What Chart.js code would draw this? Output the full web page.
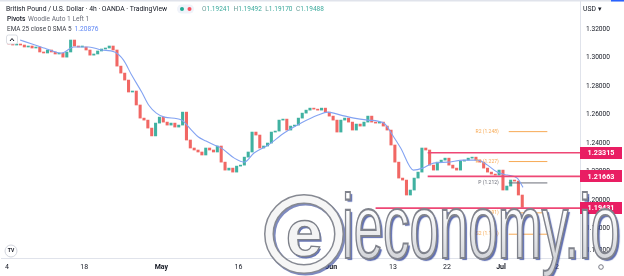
<!DOCTYPE html>
<html><head><meta charset="utf-8">
<script src="https://cdn.jsdelivr.net/npm/chart.js@4.4.1/dist/chart.umd.min.js"></script>
<style>html,body{margin:0;padding:0;background:#fff;overflow:hidden}canvas{display:block}</style>
</head><body>
<canvas id="c" width="624" height="276" style="width:624px;height:276px"></canvas>
<script>
// ---- data (12h candles, index 0 = 4 Apr first half) ----
const firstOpen = 1.3100;
const closes = [
 1.3095,1.3088,1.3095,1.3088,1.3074,1.3081,1.3067,1.3074,1.3039,1.3032,
 1.3053,1.3039,1.3025,1.3032,1.3003,1.3039,1.3123,1.3081,1.3074,1.3074,
 1.3053,1.3017,1.3025,1.3046,1.3060,1.3067,1.3081,1.3053,1.2940,1.2891,
 1.2842,1.2758,1.2765,1.2667,1.2575,1.2561,1.2505,1.2450,1.2540,1.2582,
 1.2547,1.2526,1.2540,1.2512,1.2526,1.2617,1.2421,1.2365,1.2351,1.2337,
 1.2316,1.2365,1.2351,1.2337,1.2379,1.2266,1.2210,1.2224,1.2196,1.2238,
 1.2245,1.2301,1.2337,1.2477,1.2456,1.2365,1.2379,1.2400,1.2477,1.2484,
 1.2561,1.2568,1.2491,1.2519,1.2526,1.2575,1.2610,1.2631,1.2645,1.2638,
 1.2631,1.2645,1.2617,1.2589,1.2561,1.2477,1.2561,1.2575,1.2547,1.2491,
 1.2533,1.2519,1.2547,1.2589,1.2547,1.2540,1.2547,1.2519,1.2491,1.2386,
 1.2266,1.2154,1.2140,1.2035,1.2070,1.2154,1.2196,1.2365,1.2351,1.2245,
 1.2210,1.2266,1.2280,1.2294,1.2245,1.2224,1.2210,1.2273,1.2280,1.2294,
 1.2301,1.2280,1.2266,1.2224,1.2196,1.2182,1.2175,1.2210,1.2070,1.2098,
 1.2140,1.2133,1.2035,1.1949
];
const emaIndex = [2.9,6.0,9.8,13.7,16.8,20.7,24.0,27.4,29.7,31.8,34.4,36.2,38.2,40.3,44.7,47.3,49.1,51.1,53.2,55.0,58.4,61.0,63.5,67.2,71.3,75.7,80.1,82.6,86.0,89.4,93.0,97.1,99.7,101.5,104.8,107.2,110.0,113.6,117.8,121.4,124.0,126.5,129.1,131.7,133.2];
const emaValues = [1.3123,1.3095,1.3060,1.3032,1.3074,1.3074,1.3053,1.3039,1.2982,1.2877,1.2758,1.2667,1.2610,1.2582,1.2561,1.2491,1.2442,1.2414,1.2386,1.2365,1.2294,1.2266,1.2330,1.2386,1.2470,1.2540,1.2596,1.2617,1.2596,1.2575,1.2561,1.2540,1.2442,1.2365,1.2210,1.2224,1.2259,1.2266,1.2280,1.2280,1.2245,1.2196,1.2175,1.2154,1.2089];
const xTickIndex = [-0.5,19.5,39.5,59.5,83.5,99.5,113.5,127.5,141.5];
const xTickLabels = ['4','18','May','16','Jun','13','22','Jul','12'];
const xTickBold = [false,false,true,false,true,false,false,true,false];
const yTickValues = [1.16,1.18,1.20,1.22,1.24,1.26,1.28,1.30,1.32];
const pivotNames = ['R2','R1','P','S1','S2'];
const pivotValues = [1.248,1.227,1.212,1.191,1.176];
const pivotSpan = [129.5,139.5];
const levelValues = [1.23315,1.21663,1.19431];
const levelStart = [108.5,108.5,95];
const lastOHLC = [1.19241,1.19492,1.19170,1.19488];
const emaLast = 1.20876;

// ---- layout constants ----
const X_MIN = -1.792, X_MAX = 147.96, Y_MIN = 1.1593, Y_MAX = 1.3404;
const GREEN = '#40b1a1', RED = '#f16764', EMA_C = '#83a3f2', ORANGE = '#f7aa55', PINK = '#ee4775', BOX = '#e91e63';
const FONT = 'Roboto';

const opens = closes.map((c,i)=> i===0 ? firstOpen : closes[i-1]);
const candleData = closes.map((c,i)=>({x:i, y:[opens[i], c]}));
const candleColors = closes.map((c,i)=> c >= opens[i] ? GREEN : RED);

const datasets = [];
datasets.push({type:'bar', data:candleData, backgroundColor:candleColors, barThickness:2.4, grouped:false, minBarLength:1, borderWidth:0, order:10});
datasets.push({type:'line', data:emaIndex.map((x,i)=>({x, y:emaValues[i]})), borderColor:EMA_C, borderWidth:1.1, pointRadius:0, cubicInterpolationMode:'monotone', order:2});
pivotValues.forEach((v,i)=>{
  datasets.push({type:'line', data:[{x:pivotSpan[0],y:v},{x:pivotSpan[1],y:v}], borderColor: pivotNames[i]==='P' ? '#6b6e78' : ORANGE, borderWidth:1, pointRadius:0, order:3});
});
levelValues.forEach((v,i)=>{
  datasets.push({type:'line', data:[{x:levelStart[i],y:v},{x:X_MAX,y:v}], borderColor:PINK, borderWidth:1.6, pointRadius:0, order:1});
});

function txt(ctx, s, x, y, size, color, weight, align){
  ctx.font = (weight||'normal') + ' ' + size + 'px ' + FONT;
  ctx.fillStyle = color; ctx.textAlign = align||'left'; ctx.textBaseline = 'middle';
  ctx.fillText(s, x, y);
  return ctx.measureText(s).width;
}

const overlay = {
  id:'overlay',
  afterDatasetsDraw(chart){
    const {ctx, scales:{x,y}} = chart;
    ctx.save();
    pivotValues.forEach((v,i)=>{
      const col = pivotNames[i]==='P' ? '#6b6e78' : ORANGE;
      txt(ctx, pivotNames[i]+' ('+v.toFixed(3)+')', x.getPixelForValue(pivotSpan[0]) - 10, y.getPixelForValue(v), 5, col, 'normal', 'right');
    });
    ctx.restore();
  },
  afterDraw(chart){
    const {ctx, scales:{x,y}, chartArea:ca} = chart;
    ctx.save();
    yTickValues.forEach(v=>{
      let py = y.getPixelForValue(v);
      py = Math.min(py, 250);
      txt(ctx, v.toFixed(5), ca.right + 6, py, 6.6, '#131722');
    });
    levelValues.forEach(v=>{
      const py = y.getPixelForValue(v);
      ctx.fillStyle = BOX;
      ctx.fillRect(ca.right, Math.round(py) - 6, 42, 12);
      txt(ctx, v.toFixed(5), ca.right + 21, py + 0.5, 7.2, '#ffffff', 'bold', 'center');
    });
    ctx.fillStyle = '#e0e3eb'; ctx.fillRect(0,0,624,1.5);
    ctx.fillStyle = '#2962ff'; ctx.fillRect(611,0,13,1.5);
    txt(ctx, 'British Pound / U.S. Dollar \u00b7 4h \u00b7 OANDA \u00b7 TradingView', 6, 9, 6.8, '#131722');
    ctx.fillStyle = '#f0f3fa'; ctx.beginPath(); ctx.roundRect(177, 4.5, 17, 9, 4.5); ctx.fill();
    ctx.fillStyle = '#22ab94'; ctx.beginPath(); ctx.arc(182, 9, 2, 0, 7); ctx.fill();
    ctx.fillStyle = '#f7525f'; ctx.beginPath(); ctx.arc(189.5, 9, 2, 0, 7); ctx.fill();
    const labs = ['O','H','L','C']; let px = 202;
    lastOHLC.forEach((v,i)=>{
      px += txt(ctx, labs[i], px, 9, 6.5, '#6a9e98');
      px += txt(ctx, v.toFixed(5), px, 9, 6.5, '#3aa99b') + 3.5;
    });
    let w = txt(ctx, 'Pivots', 7, 19.5, 6.6, '#131722', '500');
    txt(ctx, 'Woodie Auto 1 Left 1', 7 + w + 2.5, 19.5, 6.6, '#6a6d78');
    w = txt(ctx, 'EMA 25 close 0 SMA 5', 7, 29.5, 6.4, '#3b3e47');
    txt(ctx, emaLast.toFixed(5), 7 + w + 3, 29.5, 6.6, '#5d86f5');
    ctx.fillStyle = '#ffffff'; ctx.strokeStyle = '#d1d4dc'; ctx.lineWidth = 0.8;
    ctx.beginPath(); ctx.roundRect(6.5, 35, 11, 9, 2); ctx.fill(); ctx.stroke();
    ctx.strokeStyle = '#131722'; ctx.lineWidth = 1; ctx.beginPath(); ctx.moveTo(10,41); ctx.lineTo(12,38.5); ctx.lineTo(14,41); ctx.stroke();
    txt(ctx, 'USD \u25be', 583, 9, 6.8, '#131722');
    ctx.strokeStyle = '#d1d4dc'; ctx.fillStyle='#fff'; ctx.beginPath(); ctx.arc(11, 251, 6, 0, 7); ctx.fill(); ctx.stroke();
    txt(ctx, 'TV', 11, 251, 5, '#131722', 'bold', 'center');
    ctx.strokeStyle = '#6a6d78'; ctx.lineWidth = 0.9; ctx.beginPath(); ctx.arc(601, 267, 2.3, 0, 7); ctx.stroke();
    drawWatermark(ctx);
    ctx.restore();
  }
};

function drawWatermark(ctx){
  ctx.save();
  const cx = 304, cy = 234;
  ctx.shadowColor = 'rgba(40,60,150,0.6)'; ctx.shadowOffsetX = 1.5; ctx.shadowOffsetY = 1.5;
  ctx.lineWidth = 10; ctx.strokeStyle = '#868992';
  ctx.beginPath(); ctx.arc(cx, cy, 35, 0, 7); ctx.stroke();
  ctx.shadowColor = 'transparent';
  ctx.lineWidth = 7; ctx.strokeStyle = '#f6f6f6';
  ctx.beginPath(); ctx.arc(cx, cy, 35, 0, 7); ctx.stroke();
  ctx.font = 'bold 66px "Liberation Sans"'; ctx.textAlign='center'; ctx.textBaseline='alphabetic';
  ctx.shadowColor = 'rgba(40,60,150,0.7)'; ctx.shadowOffsetX = 1.5; ctx.shadowOffsetY = 1.5;
  ctx.fillStyle = '#f4f4f4'; ctx.fillText('e', cx, cy + 22);
  ctx.shadowColor = 'transparent';
  ctx.lineWidth = 1.3; ctx.strokeStyle = '#7d8089'; ctx.strokeText('e', cx, cy + 22);
  const s = 'ieconomy.io';
  ctx.font = '100px "Liberation Sans"'; ctx.textAlign = 'left';
  const tw = ctx.measureText(s).width;
  const sx = 278 / tw, sy = 0.9;
  ctx.setTransform(sx, 0, 0, sy, 342, 258);
  const g = ctx.createLinearGradient(0, -55, 0, 0);
  g.addColorStop(0, '#ffffff'); g.addColorStop(1, '#d4d6da');
  ctx.shadowColor = 'rgba(40,60,150,0.75)'; ctx.shadowOffsetX = 2; ctx.shadowOffsetY = 2; ctx.shadowBlur = 1;
  ctx.fillStyle = g; ctx.fillText(s, 0, 0);
  ctx.shadowColor = 'transparent';
  ctx.lineWidth = 2.4; ctx.strokeStyle = '#80838c'; ctx.strokeText(s, 0, 0);
  ctx.restore();
}

new Chart(document.getElementById('c'), {
  type:'bar',
  data:{datasets},
  options:{
    responsive:false, animation:false, devicePixelRatio:1,
    layout:{padding:0},
    plugins:{legend:{display:false}, tooltip:{enabled:false}},
    scales:{
      x:{type:'linear', min:X_MIN, max:X_MAX, offset:false,
        grid:{display:false, drawTicks:false}, border:{display:true, color:'#e0e3eb'},
        afterBuildTicks:s=>{ s.ticks = xTickIndex.map(v=>({value:v})); },
        afterFit:s=>{ s.height = 18; },
        ticks:{autoSkip:false, maxRotation:0, padding:5, color:'#131722',
          font:c=>({family:FONT, size:7, weight: xTickBold[c.index] ? 'bold' : 'normal'}),
          callback:(v,i)=>xTickLabels[i]}
      },
      y:{type:'linear', position:'right', min:Y_MIN, max:Y_MAX,
        grid:{display:false, drawTicks:false}, border:{display:true, color:'#e0e3eb'},
        afterBuildTicks:s=>{ s.ticks = yTickValues.map(v=>({value:v})); },
        afterFit:s=>{ s.width = 44; },
        ticks:{display:false}
      }
    }
  },
  plugins:[overlay]
});
</script>
</body></html>
